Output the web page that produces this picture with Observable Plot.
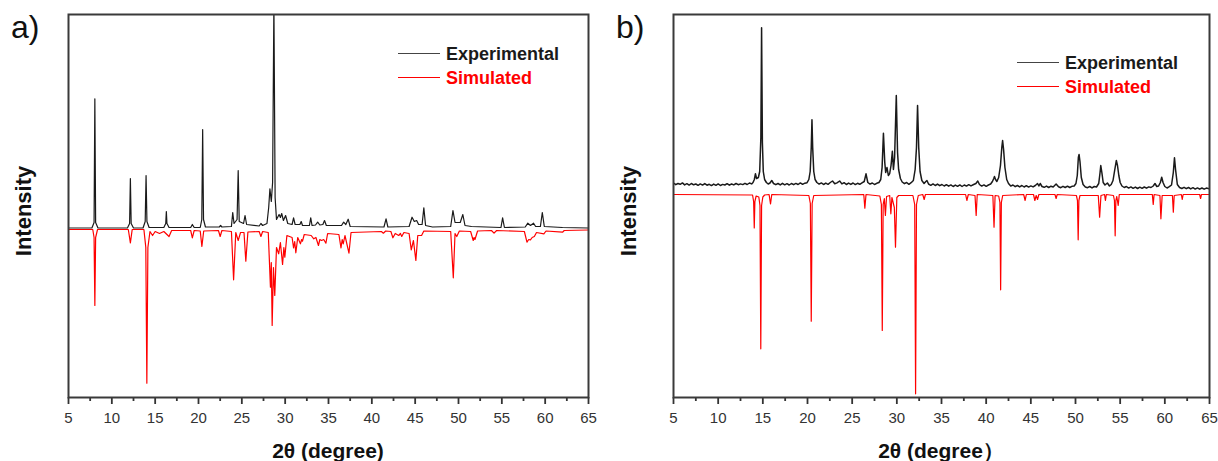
<!DOCTYPE html>
<html><head><meta charset="utf-8">
<script src="https://cdn.jsdelivr.net/npm/d3@7"></script>
<script src="https://cdn.jsdelivr.net/npm/@observablehq/plot@0.6"></script>
<style>
body{margin:0;background:#fff;font-family:"Liberation Sans",Arial,sans-serif;}
#wrap{position:relative;width:1218px;height:461px;overflow:hidden;background:#fff;}
.panel{position:absolute;top:0;height:461px;}
.lbl{position:absolute;white-space:nowrap;line-height:1;}
.leg{position:absolute;height:0;}
</style></head><body><div id="wrap"></div><script>
// ---------- data: [2theta (deg), intensity (a.u.)] ----------
const majorTicks = [5,10,15,20,25,30,35,40,45,50,55,60,65];
const minorTicks = [7.5,12.5,17.5,22.5,27.5,32.5,37.5,42.5,47.5,52.5,57.5,62.5];
const seriesNames = ["Experimental","Simulated"];
const seriesColors = ["#1a1a1a","#ff0000"];

const expA = [[5,169.5],[7.7,169.5],[7.95,175],[8.04,298.7],[8.13,175],[8.4,169.5],[11.8,169.5],[12.05,174],[12.14,219],[12.23,174],[12.5,169.5],
[13.6,169.5],[13.85,176],[13.95,222],[14.05,176],[14.3,170],[16.0,170],[16.22,174],[16.29,186],[16.36,174],[16.6,170],[19.1,170],[19.29,173],[19.5,170],
[20.2,170],[20.38,178],[20.48,268],[20.58,178],[20.8,170.5],[22.4,170.5],[22.55,172],[22.7,170.5],[23.8,171],[23.95,185],[24.1,174],[24.45,178],[24.58,227],
[24.7,176],[25.2,174],[25.37,182],[25.55,173],[27.0,171.5],[27.2,174],[27.4,172],[27.9,174],[28.1,190],[28.24,208.7],[28.4,196],[28.55,215],[28.7,395],
[28.84,200],[29.0,178],[29.3,183],[29.45,180],[29.6,184],[29.8,177],[30.05,182],[30.3,174],[30.8,173],[30.97,179.7],[31.15,173],[31.7,173],[31.85,176],
[32.0,172],[32.8,172],[32.95,179.7],[33.1,172],[33.5,172.5],[33.75,175.3],[34.0,172.5],[34.35,173],[34.54,177],[34.75,172],[36.5,172],[36.75,175.3],[37.0,173],
[37.27,178.3],[37.5,171],[41.4,170.5],[41.64,178.7],[41.85,170.5],[44.3,171],[44.64,180.3],[44.9,176],[45.17,177],[45.4,173],[45.8,173],[46.0,189.7],[46.2,172],
[47.0,170.5],[49.1,171],[49.36,187],[49.6,175],[50.2,175],[50.5,183],[50.75,172],[51.5,171],[54.9,170],[55.09,179.7],[55.3,170],[57.7,170.5],[58.0,174.3],
[58.3,172],[58.66,174.3],[58.9,171],[59.45,171],[59.67,185],[59.9,171],[62,170],[65,169.5]];

const simA = [[5,168],[7.8,168],[7.95,160],[8.04,92],[8.13,160],[8.35,168],[11.9,168],[12.14,154.7],[12.35,168],[13.7,168],[13.92,150],[14.04,14.3],[14.16,150],
[14.4,166],[14.7,162],[15.0,166],[15.5,164],[16.0,166],[16.6,161],[16.9,167],[19.1,167],[19.29,159.7],[19.5,167],[20.2,166.5],[20.39,151],[20.6,166.5],
[22.3,167],[22.5,161],[22.7,167],[23.8,166],[24.05,117.7],[24.3,165],[24.58,157],[24.85,165],[25.25,165],[25.46,136.3],[25.7,165.5],[27.0,166],[27.2,161],
[27.4,166],[28.05,165],[28.3,110.3],[28.4,135],[28.5,72],[28.65,130],[28.8,102],[29.0,150],[29.25,143.7],[29.45,155],[29.7,133],[29.85,150],[29.96,140.3],
[30.2,162],[30.8,160],[30.97,149.7],[31.1,156],[31.23,144.7],[31.45,160],[31.76,153.7],[31.9,158],[32.0,156.3],[32.2,163],[33.0,162],[33.3,158.7],[33.55,160],
[33.84,152],[34.0,158],[34.2,157],[34.45,158],[34.7,154.3],[34.9,164],[36.2,163],[36.44,149.7],[36.58,158],[36.7,153.7],[36.9,162],[37.36,144.3],[37.6,165],
[41.1,166],[41.33,164.3],[41.6,166.5],[42.2,166],[42.43,159.7],[42.7,164],[43.1,162],[43.3,164],[43.45,161],[43.7,165],[44.3,164],[44.55,147.7],[44.8,157],
[45.08,137],[45.3,162],[45.74,162],[46.0,166.5],[49.1,166],[49.4,119.7],[49.6,164],[49.8,161],[50.1,166.5],[51.4,166],[51.7,157],[51.8,160],[51.9,158],
[52.2,166.5],[53.8,167],[54.1,164.3],[54.4,167],[57.6,166],[57.9,155.3],[58.1,158],[58.3,157.7],[58.5,160],[58.75,161],[59.0,165],[59.85,163.7],[60.1,166.5],
[62,165.3],[62.2,167],[65,167.5]];

const expB = [[5,214.5],[5.25,212.8],[5.5,214],[5.75,213.2],[6,214.6],[6.25,212.6],[6.5,213.8],[6.75,212.4],[7,214],[7.25,212.7],[7.5,213.5],[7.75,212.2],
[8,213.6],[8.25,212.4],[8.5,213.9],[8.75,212.3],[9,213.2],[9.25,211.9],[9.5,213.4],[9.75,212.2],[10,213.6],[10.25,212],[10.5,213.1],[10.75,212.5],[11,213.8],
[11.25,212.3],[11.5,213.5],[11.75,212.6],[12,214],[12.25,212.8],[12.5,213.6],[12.75,212.9],[13,214.2],[13.25,213],[13.5,214.5],[13.75,213.6],
[13.9,215],[14.05,218],[14.17,223.7],[14.3,219],[14.5,220],[14.65,226],[14.78,260],[14.86,369.7],[14.95,255],[15.05,226],[15.2,218],[15.4,215],
[15.6,213.5],[15.8,214.5],[16.0,217],[16.2,214],[16.45,212.8],[16.7,214],[16.95,212.6],[17.2,214.2],[17.45,212.7],[17.7,213.8],[17.95,212.5],[18.2,214],
[18.45,212.8],[18.7,214.1],[18.95,213],[19.2,214.6],[19.45,213.2],[19.7,214.3],[19.95,214.8],[20.15,218],[20.3,226],[20.42,250],[20.5,277.7],[20.58,250],
[20.7,226],[20.85,218],[21.05,215],[21.3,213.4],[21.55,214.6],[21.8,213],[22.05,214.4],[22.3,213.2],[22.55,215],[22.8,216.5],[23.05,213.8],[23.3,214.6],
[23.6,216.5],[23.85,213.6],[24.1,214.8],[24.35,213],[24.6,214.4],[24.85,213.1],[25.1,214.5],[25.35,212.9],[25.6,214.2],[25.85,213.2],[26.1,214.6],[26.35,216],
[26.55,223.7],[26.75,215],[27.0,213.4],[27.25,214.5],[27.5,213],[27.75,214.2],[28.0,215],[28.2,218],[28.35,230],[28.5,264.3],[28.65,235],[28.75,225],
[28.9,230],[29.05,222],[29.2,224],[29.35,232],[29.5,246.3],[29.62,228],[29.75,240],[29.94,302],[30.08,245],[30.2,228],[30.4,219],[30.6,215.5],[30.85,213.8],
[31.1,215],[31.35,213.2],[31.6,214.8],[31.85,217],[32.05,228],[32.2,250],[32.32,292],[32.45,250],[32.6,226],[32.8,217],[33.05,214],[33.25,216],[33.37,217],
[33.55,213.5],[33.8,212.2],[34.05,213.6],[34.3,212],[34.55,213.4],[34.8,211.8],[35.05,213],[35.3,211.5],[35.55,212.8],[35.8,211.3],[36.05,212.6],[36.3,211],
[36.55,212.4],[36.8,211.2],[37.05,212.6],[37.3,211],[37.55,212.5],[37.8,211.4],[38.05,212.8],[38.3,211.6],[38.6,213],[38.85,214],[39.06,216.5],[39.25,213],
[39.5,211.4],[39.75,212.6],[40.0,211.2],[40.25,212.5],[40.5,213.5],[40.7,216],[40.85,219],[40.93,221],[41.05,218],[41.2,216],[41.4,220],[41.6,232],[41.75,250],
[41.84,257],[41.95,248],[42.1,230],[42.3,218],[42.5,214],[42.75,211.4],[43.0,212.5],[43.25,210.8],[43.5,212],[43.75,210.6],[44.0,212],[44.25,210.5],[44.5,211.8],
[44.75,210.4],[45.0,211.6],[45.25,210.6],[45.5,212],[45.75,214],[45.9,211.5],[46.05,214],[46.25,211],[46.5,210.2],[46.75,211.4],[47.0,210],[47.25,211.3],
[47.5,210.5],[47.83,213.5],[48.1,210.8],[48.35,209.8],[48.6,211.2],[48.85,210],[49.1,211.3],[49.35,210],[49.6,211.2],[49.85,211.5],[50.05,214],[50.2,222],
[50.32,240],[50.4,243],[50.5,236],[50.65,220],[50.85,213],[51.1,210.5],[51.35,209.8],[51.6,211],[51.85,209.6],[52.1,211],[52.35,210.5],[52.6,214],[52.75,225],
[52.83,232],[52.95,225],[53.1,215],[53.3,212.5],[53.57,214.5],[53.8,211.5],[54.0,213],[54.2,217],[54.4,228],[54.57,237],[54.7,232],[54.85,222],[55.0,215],
[55.2,211.5],[55.45,210],[55.7,211],[55.95,209.4],[56.2,210.6],[56.45,209.2],[56.7,210.4],[56.95,209],[57.2,210.3],[57.45,209.2],[57.7,210.5],[57.95,209.3],
[58.2,210.6],[58.45,210],[58.7,211.5],[58.9,214],[59.1,211],[59.3,211.5],[59.5,215],[59.65,220.3],[59.8,215],[60.0,211],[60.25,209.5],[60.5,210.8],[60.75,212.5],
[60.95,225],[61.08,239.7],[61.2,228],[61.4,213],[61.65,210],[61.9,209],[62.15,210.2],[62.4,208.8],[62.65,210],[62.9,208.6],[63.15,209.8],[63.4,208.4],
[63.65,209.6],[63.9,208.3],[64.15,209.5],[64.4,208.3],[64.65,209.4],[65,208.6]];

const simB = [[5,203],[13.85,202.5],[13.97,196],[14.04,169.5],[14.11,196],[14.25,201.5],[14.55,200.5],[14.68,192],[14.77,48.7],[14.86,192],[15.0,200.5],
[15.2,202.5],[15.7,203],[15.86,193.7],[16.0,203],[20.15,202],[20.32,194],[20.42,76.3],[20.52,194],[20.7,202],[26.3,203],[26.42,189.3],[26.55,203],
[28.1,201.5],[28.27,193],[28.37,67],[28.47,193],[28.6,199],[28.72,182],[28.85,201],[29.2,202],[29.33,183.7],[29.45,200],[29.72,190],[29.85,150.3],[30.0,200],
[30.2,202],[31.8,202],[32.0,193],[32.1,3.7],[32.2,193],[32.4,202],[32.9,203],[33.06,198],[33.2,203],[37.7,203],[37.84,197],[38.0,203],[38.75,202],[38.88,182],
[39.0,203],[40.75,202],[40.88,170.3],[41.0,202],[41.4,201.5],[41.54,195],[41.62,107.7],[41.7,195],[41.85,202],[44.2,203],[44.36,197],[44.5,203],[45.3,203],
[45.45,197],[45.6,202],[45.75,198],[45.9,203],[47.7,203],[47.83,199],[47.95,203],[50.1,202],[50.22,197],[50.3,157.7],[50.38,197],[50.5,202],[52.55,202],
[52.7,180.3],[52.85,202],[53.25,203],[53.35,197],[53.45,203],[54.25,202],[54.36,197],[54.44,161.7],[54.52,197],[54.62,201],[54.78,192],[54.9,203],[58.6,203],
[58.7,193],[58.8,203],[59.45,202],[59.56,178.7],[59.7,202],[60.85,202],[60.95,185.3],[61.05,202],[61.85,203],[61.95,198],[62.05,203],[63.9,203],[64.0,199],
[64.1,203],[65,203]];

const panels = [
  {letter:"a)", xlabel:"2\u03b8 (degree)", exp:expA, sim:simA, left:0, ml:68, mr:21, expW:1.2},
  {letter:"b)", xlabel:"2\u03b8 (degree\uff09", exp:expB, sim:simB, left:609, ml:64, mr:9, expW:1.5}
];

const wrap = document.getElementById("wrap");
function el(cls, css, text){ const d=document.createElement("div"); d.className=cls; d.style.cssText=css; if(text!=null) d.textContent=text; return d; }

for (const p of panels) {
  const W = 609;
  const toObj = a => a.map(([x,y]) => ({x, y}));
  const chart = Plot.plot({
    width: W, height: 461,
    marginLeft: p.ml, marginRight: p.mr, marginTop: 14, marginBottom: 64,
    x: {domain: [5, 65], axis: null},
    y: {domain: [0, 383], axis: null},
    style: {fontFamily: "'Liberation Sans', Arial, sans-serif", fontSize: "15px", color: "#333", background: "transparent"},
    marks: [
      Plot.line(toObj(p.sim), {x: "x", y: "y", stroke: seriesColors[1], strokeWidth: 1.2, clip: true}),
      Plot.line(toObj(p.exp), {x: "x", y: "y", stroke: seriesColors[0], strokeWidth: p.expW, clip: true}),
      Plot.axisX({ticks: majorTicks, tickSize: 7, tickPadding: 8, tickFormat: d => String(d), label: null, strokeWidth: 1.8, fill: "#333"}),
      Plot.axisX({ticks: minorTicks, tickSize: 4, tickFormat: () => "", label: null, strokeWidth: 1.8}),
      Plot.frame({stroke: "#3a3a3a", strokeWidth: 2})
    ]
  });
  const box = el("panel", `left:${p.left}px;width:${W}px;`);
  box.appendChild(chart);
  wrap.appendChild(box);

  const fx0 = p.left + p.ml, fx1 = p.left + W - p.mr;
  wrap.appendChild(el("lbl", `left:${fx0-57}px;top:11px;font-size:32px;color:#111;`, p.letter));
  wrap.appendChild(el("lbl", `left:${fx0-44}px;top:211px;font-size:22px;font-weight:bold;color:#111;transform:translate(-50%,-50%) rotate(-90deg);`, "Intensity"));
  wrap.appendChild(el("lbl", `left:${(fx0+fx1)/2}px;top:449.5px;font-size:21px;font-weight:bold;color:#111;transform:translate(-50%,-50%);`, p.xlabel));
  const lx = fx1 - (p.left===0 ? 190 : 192);
  const ly = p.left===0 ? 54 : 63;
  seriesNames.forEach((name, i) => {
    const y = ly + i*24;
    wrap.appendChild(el("leg", `left:${lx}px;top:${y-0.75}px;width:42px;border-top:1.5px solid ${i===0?"#444":"#ff0000"};`));
    wrap.appendChild(el("lbl", `left:${lx+48}px;top:${y}px;font-size:18px;font-weight:bold;color:${i===0?"#1a1a1a":"#ff0000"};transform:translateY(-50%);`, name));
  });
}
</script></body></html>
